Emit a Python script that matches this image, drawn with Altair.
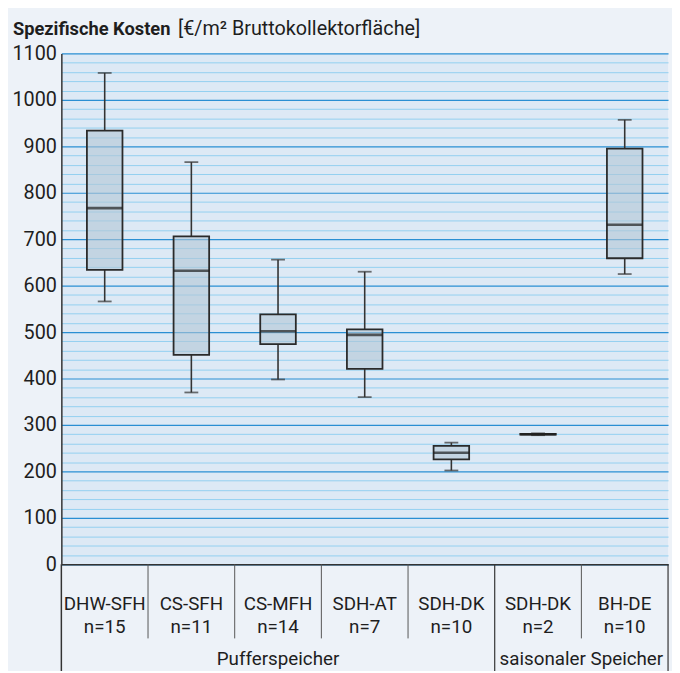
import altair as alt
import pandas as pd

# ---- data ----
categories = ["DHW-SFH|n=15", "CS-SFH|n=11", "CS-MFH|n=14", "SDH-AT|n=7",
              "SDH-DK|n=10", "SDH-DK|n=2", "BH-DE|n=10"]
whisker_low = [566, 370, 398, 360, 202, 278, 625]
q1 = [634, 451, 474, 421, 226, 279, 659]
median = [767, 632, 502, 494, 240, 280, 731]
q3 = [934, 706, 538, 506, 255, 281, 895]
whisker_high = [1058, 866, 656, 630, 262, 282, 957]

groups = ["Pufferspeicher", "saisonaler Speicher"]
title_bold = "Spezifische Kosten"
title_rest = "[€/m² Bruttokollektorfläche]"
y_ticks = list(range(0, 1101, 20))

W, H = 614, 517
FONT = "Roboto"
TXT = "#1e1e1e"

df = pd.DataFrame({"cat": categories, "lo": whisker_low, "q1": q1,
                   "med": median, "q3": q3, "hi": whisker_high})
df["idx"] = range(len(df))

xscale = alt.Scale(domain=categories, paddingInner=0, paddingOuter=0)
xaxis = alt.Axis(title=None, labelExpr="split(datum.value, '|')", labelAngle=0,
                 labelFontSize=19, labelFont=FONT, labelColor=TXT, labelLineHeight=23,
                 labelPadding=31, ticks=False, domainColor="#333333", domainWidth=1.5,
                 grid=False, labelOverlap=False)
yaxis = alt.Axis(title=None, values=y_ticks, tickCount=100, labelOverlap=False, format="d",
                 labelExpr="datum.value % 100 == 0 ? datum.label : ''",
                 labelFontSize=20, labelFont=FONT, labelColor=TXT, labelPadding=5,
                 ticks=False, domainColor="#333333", domainWidth=1.5,
                 grid=True,
                 gridColor={"condition": {"test": "datum.value % 100 == 0", "value": "#2a8fd3"},
                            "value": "#92cff0"},
                 gridWidth={"condition": {"test": "datum.value % 100 == 0", "value": 1.2},
                            "value": 1})
yscale = alt.Scale(domain=[0, 1100], nice=False)

base = alt.Chart(df)
X = alt.X("cat:N", scale=xscale, axis=xaxis)

lower = base.mark_rule(color="#333333", strokeWidth=1.6).encode(
    x=X, y=alt.Y("lo:Q", scale=yscale, axis=yaxis), y2="q1:Q")
upper = base.mark_rule(color="#333333", strokeWidth=1.6).encode(
    x=X, y=alt.Y("q3:Q"), y2="hi:Q")
cap_lo = base.mark_tick(color="#333333", size=14, thickness=1.8).encode(x=X, y="lo:Q")
cap_hi = base.mark_tick(color="#333333", size=14, thickness=1.8).encode(x=X, y="hi:Q")
box = base.mark_bar(size=36, fill="#b3c6d6", fillOpacity=0.6, stroke="#2a2a2a",
                    strokeWidth=1.8).encode(x=X, y="q1:Q", y2="q3:Q")
med = base.mark_tick(color="#1e1e1e", size=36, thickness=2.6).encode(x=X, y="med:Q")

# table lines below the plot
short_sep = base.transform_filter("datum.idx != 0 && datum.idx != 5").mark_rule(
    color="#555555", strokeWidth=1).encode(
    x=alt.X("cat:N", scale=xscale, bandPosition=0), y=alt.value(H), y2=alt.value(H + 75))
long_sep = base.transform_filter("datum.idx == 5").mark_rule(
    color="#333333", strokeWidth=1.2).encode(
    x=alt.X("cat:N", scale=xscale, bandPosition=0), y=alt.value(H), y2=alt.value(H + 110))
left_sep = base.transform_filter("datum.idx == 0").mark_rule(
    color="#333333", strokeWidth=1.5).encode(
    x=alt.X("cat:N", scale=xscale, bandPosition=0), y=alt.value(H), y2=alt.value(H + 110))
right_sep = base.transform_filter("datum.idx == 6").mark_rule(
    color="#333333", strokeWidth=1.2).encode(
    x=alt.X("cat:N", scale=xscale, bandPosition=1), y=alt.value(H), y2=alt.value(H + 110))

gdf = pd.DataFrame({"g": groups, "anchor": [categories[2], categories[6]]})
g1 = alt.Chart(gdf).transform_filter(alt.datum.g == groups[0]).mark_text(
    font=FONT, fontSize=19, color=TXT, baseline="middle", align="center").encode(
    x=alt.X("anchor:N", scale=xscale, bandPosition=0.5), y=alt.value(H + 96), text="g:N")
g2 = alt.Chart(gdf).transform_filter(alt.datum.g == groups[1]).mark_text(
    font=FONT, fontSize=19, color=TXT, baseline="middle", align="center").encode(
    x=alt.X("anchor:N", scale=xscale, bandPosition=0), y=alt.value(H + 96), text="g:N")

tdf = pd.DataFrame({"t": [title_bold]})
t1 = alt.Chart(tdf).mark_text(font=FONT, fontSize=18.5, fontWeight="bold", color=TXT,
                              align="left", baseline="alphabetic").encode(
    x=alt.value(-49), y=alt.value(-19), text="t:N")
tdf2 = pd.DataFrame({"t": [title_rest]})
t2 = alt.Chart(tdf2).mark_text(font=FONT, fontSize=20, color=TXT,
                               align="left", baseline="alphabetic").encode(
    x=alt.value(118), y=alt.value(-19), text="t:N")

chart = alt.layer(lower, upper, cap_lo, cap_hi, box, med,
                  short_sep, long_sep, left_sep, right_sep, g1, g2, t1, t2).properties(
    width=W, height=H,
    background="#edf2f8",
    padding={"left": 54, "top": 42, "right": 4, "bottom": 104},
    autosize=alt.AutoSizeParams(type="none"),
).configure_view(fill="#dde9f5", stroke=None)

chart.save("out.html", embed_options={"renderer": "svg", "actions": False})
